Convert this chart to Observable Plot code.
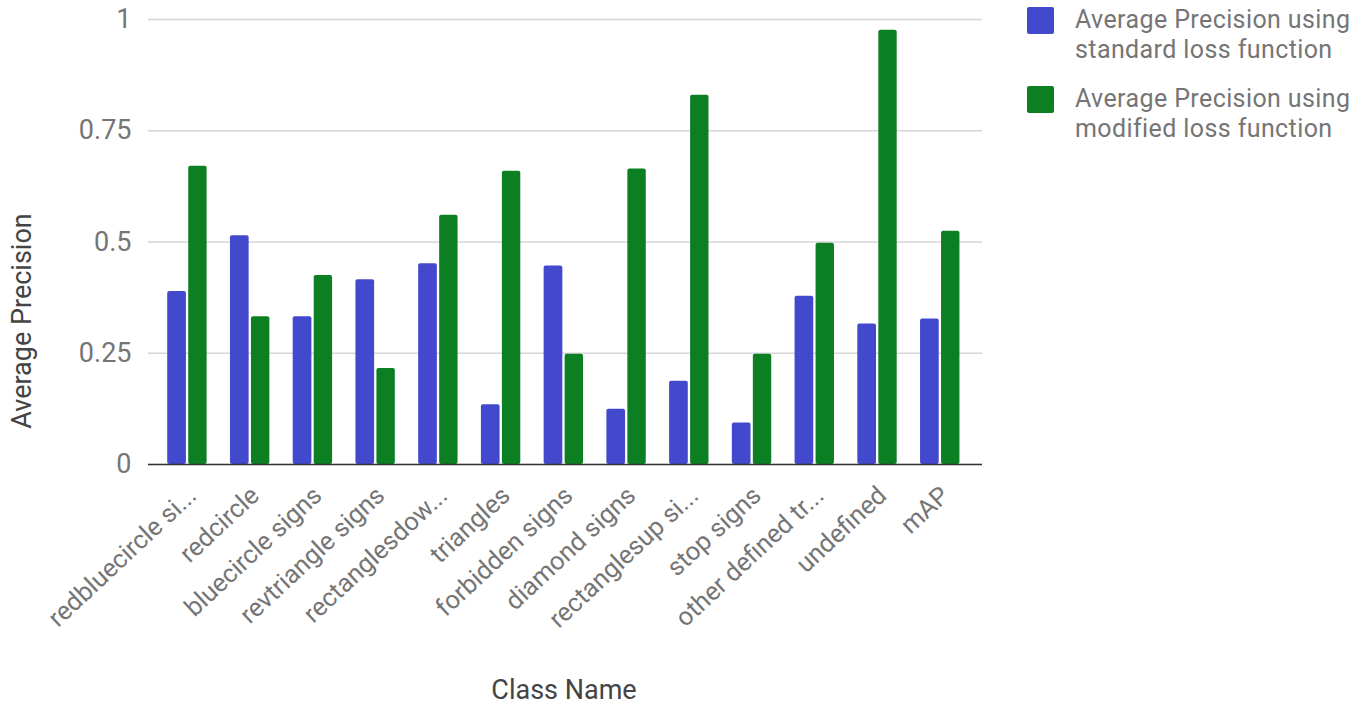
<!DOCTYPE html>
<html>
<head>
<meta charset="utf-8">
<script src="https://cdn.jsdelivr.net/npm/d3@7"></script>
<script src="https://cdn.jsdelivr.net/npm/@observablehq/plot@0.6"></script>
<style>
  html, body { margin: 0; padding: 0; background: #fff; }
  #wrap { position: relative; width: 1372px; height: 706px; font-family: Roboto, "Noto Sans", sans-serif; }
  #chart { position: absolute; left: 0; top: 0; }
  .legend { position: absolute; left: 1027px; top: 7px; }
  .legend .item { position: relative; height: 79px; }
  .legend .swatch { position: absolute; left: 0; top: 0; width: 27px; height: 27px; border-radius: 2px; }
  .legend .label { position: absolute; left: 48px; top: -2px; font-size: 25px; line-height: 29.5px; letter-spacing: 0.4px; color: #757575; white-space: nowrap; }
  .ytitle { position: absolute; left: 22px; top: 321px; transform: translate(-50%, -50%) rotate(-90deg); font-size: 27px; color: #444; white-space: nowrap; }
  .xtitle { position: absolute; left: 564px; top: 690px; transform: translate(-50%, -50%); font-size: 27px; color: #444; white-space: nowrap; }
</style>
</head>
<body>
<div id="wrap">
  <div id="chart"></div>
  <div class="ytitle">Average Precision</div>
  <div class="xtitle">Class Name</div>
  <div class="legend" id="legend"></div>
</div>
<script>
// Per-class average precision for the two training setups
const classNames = [
  "redbluecircle si...", "redcircle", "bluecircle signs", "revtriangle signs",
  "rectanglesdow...", "triangles", "forbidden signs", "diamond signs",
  "rectanglesup si...", "stop signs", "other defined tr...", "undefined", "mAP"
];
const standardAP = [0.389, 0.514, 0.332, 0.415, 0.451, 0.134, 0.446, 0.124, 0.187, 0.093, 0.378, 0.316, 0.327];
const modifiedAP = [0.670, 0.332, 0.425, 0.216, 0.560, 0.659, 0.248, 0.664, 0.830, 0.248, 0.497, 0.976, 0.524];
const seriesLegendLines = [
  ["Average Precision using", "standard loss function"],
  ["Average Precision using", "modified loss function"]
];
const seriesColors = ["#4349cc", "#0c7f22"];
const yTicks = [0, 0.25, 0.5, 0.75, 1];

const standardRows = classNames.map((name, i) => ({name, value: standardAP[i]}));
const modifiedRows = classNames.map((name, i) => ({name, value: modifiedAP[i]}));

// each class band holds two side-by-side bars: standard on the left, modified on the right
const chart = Plot.plot({
  width: 1372,
  height: 706,
  marginLeft: 148,
  marginRight: 390,
  marginTop: 19,
  marginBottom: 242,
  style: {fontFamily: "Roboto, 'Noto Sans', sans-serif", fontSize: "27px", color: "#757575", background: "#fff"},
  x: {domain: classNames, paddingInner: 0.372, paddingOuter: 0.333, align: 0.46, round: false, axis: null},
  y: {domain: [0, 1], ticks: yTicks, tickFormat: d => String(d), tickSize: 0, tickPadding: 17, label: null},
  marks: [
    Plot.ruleY(yTicks, {stroke: "#d6d6d6", strokeWidth: 1.5}),
    Plot.barY(standardRows, {x: "name", y: "value", fill: seriesColors[0], insetRight: 20.7, rx: 2}),
    Plot.barY(modifiedRows, {x: "name", y: "value", fill: seriesColors[1], insetLeft: 21, rx: 2}),
    Plot.ruleY([0], {stroke: "#333", strokeWidth: 1.5}),
    Plot.axisX({tickRotate: -43, tickSize: 0, tickPadding: 27, dx: 5, label: null, fontSize: 25.5, fill: "#757575"})
  ]
});
document.getElementById("chart").appendChild(chart);

// Legend entries
const legend = document.getElementById("legend");
seriesLegendLines.forEach((lines, i) => {
  const item = document.createElement("div");
  item.className = "item";
  const sw = document.createElement("div");
  sw.className = "swatch";
  sw.style.background = seriesColors[i];
  const lab = document.createElement("div");
  lab.className = "label";
  lab.innerHTML = lines.join("<br>");
  item.appendChild(sw);
  item.appendChild(lab);
  legend.appendChild(item);
});
</script>
</body>
</html>
